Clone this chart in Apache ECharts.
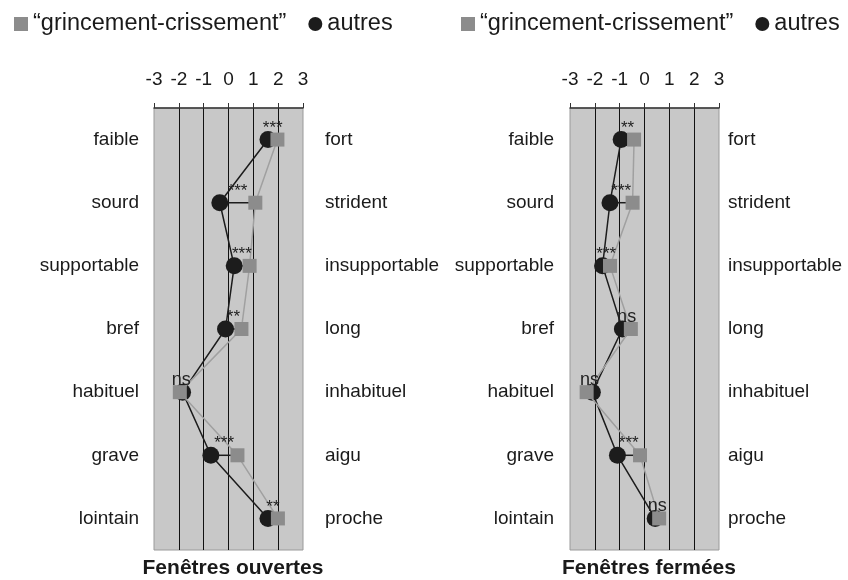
<!DOCTYPE html>
<html lang="fr">
<head>
  <meta charset="UTF-8">
  <title>Fenêtres ouvertes / fermées</title>
  <script src="https://cdn.jsdelivr.net/npm/echarts@6/dist/echarts.min.js"></script>
  <style>
    html, body { margin: 0; padding: 0; background: #fff; }
    #box { width: 848px; height: 580px; }
  </style>
</head>
<body>
<div id="box"></div>
<script>
  // adjectifs gauche / droite (ordre de haut en bas)
  var leftLabels = ['faible', 'sourd', 'supportable', 'bref', 'habituel', 'grave', 'lointain'];
  var rightLabels = ['fort', 'strident', 'insupportable', 'long', 'inhabituel', 'aigu', 'proche'];
  var xTicks = [-3, 3];

  // fenêtres ouvertes
  var openGrinc = [1.97, 1.08, 0.85, 0.52, -1.96, 0.36, 1.99];
  var openAutres = [1.59, -0.35, 0.23, -0.12, -1.85, -0.71, 1.59];
  var openSig = ['***', '***', '***', '**', 'ns', '***', '**'];

  // fenêtres fermées
  var closedGrinc = [-0.42, -0.48, -1.39, -0.55, -2.33, -0.18, 0.59];
  var closedAutres = [-0.94, -1.39, -1.69, -0.89, -2.1, -1.09, 0.43];
  var closedSig = ['**', '***', '***', 'ns', 'ns', '***', 'ns'];

  var titles = ['Fenêtres ouvertes', 'Fenêtres fermées'];
  var nameGrinc = '\u201cgrincement-crissement\u201d';
  var nameAutres = 'autres';

  var font = '"Liberation Sans", Arial, sans-serif';
  var grey = '#8c8c8c';
  var black = '#1c1c1c';

  var box = document.getElementById('box');
  var chart = echarts.init(box);

  function pairs(arr) {
    return arr.map(function (v, i) { return [v, i]; });
  }

  function panelSeries(g, yIdx, grinc, autres, sig) {
    return [
      {
        type: 'custom',
        xAxisIndex: g, yAxisIndex: yIdx,
        z: 1, silent: true,
        encode: { x: [0, 1], y: 2 },
        data: autres.map(function (v, i) { return [v, grinc[i], i]; }),
        renderItem: function (params, api) {
          var a = api.coord([api.value(0), api.value(2)]);
          var b = api.coord([api.value(1), api.value(2)]);
          return {
            type: 'line',
            shape: { x1: a[0], y1: a[1], x2: b[0], y2: b[1] },
            style: { stroke: black, lineWidth: 1.5 }
          };
        }
      },
      {
        name: nameAutres, type: 'line',
        xAxisIndex: g, yAxisIndex: yIdx, z: 2,
        data: pairs(autres),
        symbol: 'circle', symbolSize: 17,
        itemStyle: { color: black },
        lineStyle: { color: black, width: 1.5 }
      },
      {
        name: nameGrinc, type: 'line',
        xAxisIndex: g, yAxisIndex: yIdx, z: 3,
        data: pairs(grinc),
        symbol: 'rect', symbolSize: 14,
        itemStyle: { color: grey },
        lineStyle: { color: '#a0a0a0', width: 1.5 }
      },
      {
        type: 'custom',
        xAxisIndex: g, yAxisIndex: yIdx,
        z: 4, silent: true,
        encode: { x: 0, y: 1 },
        data: grinc.map(function (v, i) { return [(v + autres[i]) / 2, i]; }),
        renderItem: function (params, api) {
          var p = api.coord([api.value(0), api.value(1)]);
          var txt = sig[params.dataIndex];
          return {
            type: 'text',
            x: p[0], y: p[1] - 3,
            style: {
              text: txt,
              fontFamily: font,
              fontSize: txt === 'ns' ? 18 : 17,
              align: 'center',
              verticalAlign: 'bottom',
              fill: '#222'
            }
          };
        }
      }
    ];
  }

  function xAxisFor(g) {
    return {
      type: 'value', gridIndex: g, position: 'top',
      min: xTicks[0], max: xTicks[1], interval: 1,
      axisLine: { show: true, lineStyle: { color: '#333', width: 1.5 } },
      axisTick: { show: true, length: 5, lineStyle: { color: '#333' } },
      axisLabel: { fontSize: 19, color: '#1a1a1a', fontFamily: font, margin: 19 },
      splitLine: {
        show: true, showMinLine: false, showMaxLine: false,
        lineStyle: { color: '#111', width: 1 }
      }
    };
  }

  function yAxisFor(g, labels, pos, margin) {
    return {
      type: 'category', gridIndex: g, position: pos,
      inverse: true, data: labels,
      axisLine: { show: false }, axisTick: { show: false },
      splitLine: { show: false },
      axisLabel: { fontSize: 19, color: '#1a1a1a', fontFamily: font, margin: margin }
    };
  }

  function legendAt(left) {
    return {
      left: left, top: 7,
      itemWidth: 14, itemHeight: 14, itemGap: 22,
      selectedMode: false,
      textStyle: { fontSize: 23.5, color: '#1a1a1a', fontFamily: font },
      data: [
        { name: nameGrinc, icon: 'rect', itemStyle: { color: grey } },
        { name: nameAutres, icon: 'circle', itemStyle: { color: black } }
      ]
    };
  }

  var option = {
    animation: false,
    backgroundColor: '#fff',
    textStyle: { fontFamily: font },
    legend: [legendAt(9), legendAt(456)],
    title: [
      { text: titles[0], left: 228, top: 553, textAlign: 'center',
        textStyle: { fontSize: 21, fontWeight: 'bold', color: '#1a1a1a', fontFamily: font } },
      { text: titles[1], left: 644, top: 553, textAlign: 'center',
        textStyle: { fontSize: 21, fontWeight: 'bold', color: '#1a1a1a', fontFamily: font } }
    ],
    grid: [
      { left: 154, top: 108, width: 149, height: 442, show: true,
        backgroundColor: '#c8c8c8', borderColor: '#9a9a9a', borderWidth: 1 },
      { left: 570, top: 108, width: 149, height: 442, show: true,
        backgroundColor: '#c8c8c8', borderColor: '#9a9a9a', borderWidth: 1 }
    ],
    xAxis: [xAxisFor(0), xAxisFor(1)],
    yAxis: [
      yAxisFor(0, leftLabels, 'left', 15),
      yAxisFor(0, rightLabels, 'right', 22),
      yAxisFor(1, leftLabels, 'left', 16),
      yAxisFor(1, rightLabels, 'right', 9)
    ],
    series: panelSeries(0, 0, openGrinc, openAutres, openSig)
      .concat(panelSeries(1, 2, closedGrinc, closedAutres, closedSig))
  };

  chart.setOption(option);
</script>
</body>
</html>
